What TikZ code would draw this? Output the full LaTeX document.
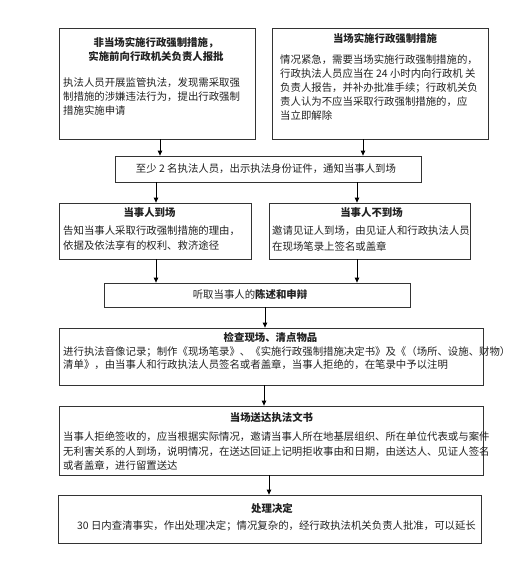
\documentclass[tikz,border=0pt]{standalone}
\usepackage{fontspec}
\setmainfont{Noto Sans CJK SC}
\usetikzlibrary{arrows.meta}
\definecolor{boxline}{HTML}{333333}
\definecolor{txt}{HTML}{222222}
\tikzset{
  box/.style={draw=boxline, line width=0.8pt, inner sep=0pt, fill=white},
  ln/.style={anchor=west, inner sep=0pt, text=txt, font=\fontsize{10.4}{14}\selectfont},
  ttl/.style={anchor=center, inner sep=0pt, text=txt, font=\fontsize{10.4}{14}\selectfont\bfseries},
  ctr/.style={anchor=center, inner sep=0pt, text=txt, font=\fontsize{10.4}{14}\selectfont},
  arr/.style={draw=black, line width=0.8pt, -{Triangle[length=5pt,width=4.5pt]}}
}
\begin{document}
\begin{tikzpicture}[x=1pt,y=-1pt]
\useasboundingbox (0,0) rectangle (531,565);
\fill[white] (0,0) rectangle (531,565);
% boxes
\node[box, minimum width=196pt, minimum height=111pt] (b1) at (157,83.5) {};
\node[box, minimum width=216pt, minimum height=111pt] (b2) at (380,83.5) {};
\node[box, minimum width=306pt, minimum height=26pt] (b3) at (268,169) {};
\node[box, minimum width=192pt, minimum height=56pt] (b4l) at (155,231) {};
\node[box, minimum width=201pt, minimum height=56pt] (b4r) at (369.5,231) {};
\node[box, minimum width=306pt, minimum height=24pt] (b5) at (257,295) {};
\node[box, minimum width=424pt, minimum height=57pt] (b6) at (271,356.5) {};
\node[box, minimum width=424pt, minimum height=69pt] (b7) at (271,440.5) {};
\node[box, minimum width=423pt, minimum height=48pt] (b8) at (269.5,519) {};
% box 1
\node[ttl] (t1a) at (156,43) {非当场实施行政强制措施，};
\node[ttl] (t1b) at (156,57) {实施前向行政机关负责人报批};
\node[ln] (l1a) at (63,83) {执法人员开展监管执法，发现需采取强};
\node[ln] (l1b) at (63,97) {制措施的涉嫌违法行为，提出行政强制};
\node[ln] (l1c) at (63,111) {措施实施申请};
% box 2
\node[ttl] (t2) at (385,39) {当场实施行政强制措施};
\node[ln] (l2a) at (280,60) {情况紧急，需要当场实施行政强制措施的，};
\node[ln] (l2b) at (280,74) {行政执法人员应当在 24 小时内向行政机 关};
\node[ln] (l2c) at (280,88) {负责人报告，并补办批准手续；行政机关负};
\node[ln] (l2d) at (280,102) {责人认为不应当采取行政强制措施的，应};
\node[ln] (l2e) at (280,116) {当立即解除};
% box 3
\node[ctr] (t3) at (266,169) {至少 2 名执法人员，出示执法身份证件，通知当事人到场};
% box 4
\node[ttl] (t4l) at (149.5,213) {当事人到场};
\node[ln] (l4la) at (63,231) {告知当事人采取行政强制措施的理由，};
\node[ln] (l4lb) at (63,246) {依据及依法享有的权利、救济途径};
\node[ttl] (t4r) at (371.5,213) {当事人不到场};
\node[ln] (l4ra) at (272,231) {邀请见证人到场，由见证人和行政执法人员};
\node[ln] (l4rb) at (272,246) {在现场笔录上签名或盖章};
% box 5
\node[ctr] (t5) at (250,294) {听取当事人的\textbf{陈述和申辩}};
% box 6
\node[ttl] (t6) at (270.5,337) {检查现场、清点物品};
\node[ln] (l6a) at (63,352) {进行执法音像记录；制作《现场笔录》、《实施行政强制措施决定书》及《（场所、设施、财物）};
\node[ln] (l6b) at (63,364.5) {清单》，由当事人和行政执法人员签名或者盖章，当事人拒绝的，在笔录中予以注明};
% box 7
\node[ttl] (t7) at (271.5,418) {当场送达执法文书};
\node[ln] (l7a) at (63,437) {当事人拒绝签收的，应当根据实际情况，邀请当事人所在地基层组织、所在单位代表或与案件};
\node[ln] (l7b) at (63,451.5) {无利害关系的人到场，说明情况，在送达回证上记明拒收事由和日期，由送达人、见证人签名};
\node[ln] (l7c) at (63,466) {或者盖章，进行留置送达};
% box 8
\node[ttl] (t8) at (272,509) {处理决定};
\node[ln] (l8) at (77,526) {30 日内查清事实，作出处理决定；情况复杂的，经行政执法机关负责人批准，可以延长};
% arrows
\draw[arr] ([xshift=3pt]b1.south) -- ([xshift=3pt]b1.south |- b3.north);
\draw[arr] ([xshift=-17pt]b2.south) -- ([xshift=-17pt]b2.south |- b3.north);
\draw[arr] ([xshift=1pt]b4l.north |- b3.south) -- ([xshift=1pt]b4l.north);
\draw[arr] ([xshift=-12.5pt]b4r.north |- b3.south) -- ([xshift=-12.5pt]b4r.north);
\draw[arr] ([xshift=1pt]b4l.south) -- ([xshift=1pt]b4l.south |- b5.north);
\draw[arr] ([xshift=-12.5pt]b4r.south) -- ([xshift=-12.5pt]b4r.south |- b5.north);
\draw[arr] ([xshift=8pt]b5.south) -- ([xshift=8pt]b5.south |- b6.north);
\draw[arr] ([xshift=-7pt]b6.south) -- ([xshift=-7pt]b6.south |- b7.north);
\draw[arr] ([xshift=-2pt]b7.south) -- ([xshift=-2pt]b7.south |- b8.north);
\end{tikzpicture}
\end{document}
